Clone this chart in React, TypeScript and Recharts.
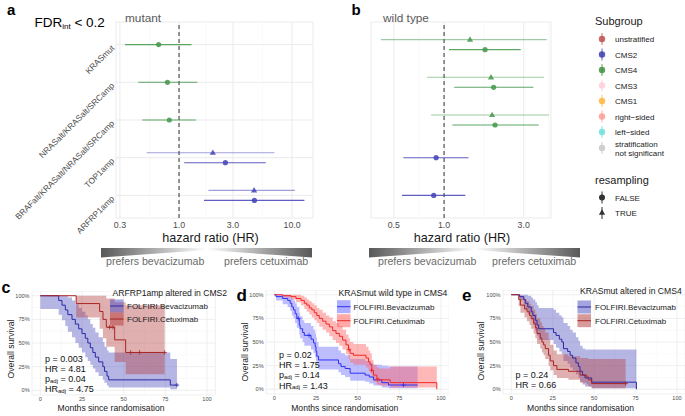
import React from 'react';
import { ScatterChart, Scatter, XAxis, YAxis, CartesianGrid, ReferenceLine, ComposedChart, Line, Area } from 'recharts';

const FONT = '"Liberation Sans", Arial, Helvetica, sans-serif';
const GRID_MAJOR = '#ebebeb';
const GRID_MINOR = '#f4f4f4';
const DODGE = 0.133;

// ---------------- forest plots ----------------
const rowLabels = ['KRASmut', 'NRASalt/KRASalt/SRCamp', 'BRAFalt/KRASalt/NRASalt/SRCamp', 'TOP1amp', 'ARFRP1amp'];
const rowIndex = [1, 2, 3, 4, 5];
const hrTicksA = [0.3, 1, 3, 10];
const hrMinorA = [0.5477, 1.732, 5.477];
const hrTicksB = [0.5, 1, 3];
const hrMinorB = [0.7071, 1.732, 4.243];

// panel a : mutant
const aRow = [1, 2, 3, 4, 4, 5, 5];
const aResampled = [false, false, false, true, false, true, false];
const aGroup = ['CMS4', 'CMS4', 'CMS4', 'CMS2', 'CMS2', 'CMS2', 'CMS2'];
const aHR = [0.66, 0.79, 0.82, 1.99, 2.57, 4.61, 4.64];
const aLo = [0.333, 0.436, 0.473, 0.518, 1.11, 1.82, 1.66];
const aHi = [1.29, 1.45, 1.41, 6.97, 5.85, 10.6, 12.85];

// panel b : wild type
const bRow = [1, 1, 2, 2, 3, 3, 4, 5];
const bResampled = [true, false, true, false, true, false, false, false];
const bGroup = ['CMS4', 'CMS4', 'CMS4', 'CMS4', 'CMS4', 'CMS4', 'CMS2', 'CMS2'];
const bHR = [1.43, 1.76, 1.91, 1.98, 1.94, 2.02, 0.896, 0.867];
const bLo = [0.418, 1.07, 0.79, 1.15, 0.836, 1.12, 0.57, 0.56];
const bHi = [4.12, 2.88, 3.97, 3.43, 4.25, 3.69, 1.40, 1.34];

const groupColor: Record<string, string> = { CMS2: '#4343b6', CMS4: '#43984a' };

// legend
const subgroupNames = ['unstratified', 'CMS2', 'CMS4', 'CMS3', 'CMS1', 'right\u2212sided', 'left\u2212sided'];
const subgroupColors = ['#bf4e4e', '#3d3db0', '#3f913f', '#ffcdd6', '#ffb53a', '#ff9a92', '#6cdfdf', '#cfcfcf'];
const subgroupY = [39, 54.5, 70, 85.5, 101, 116.5, 132];

// ---------------- Kaplan-Meier panels ----------------
const monthTicks = [0, 25, 50, 75, 100];
const monthMinor = [12.5, 37.5, 62.5, 87.5];
const survTicks = [0, 0.25, 0.5, 0.75, 1];
const survMinor = [0.125, 0.375, 0.625, 0.875];

// c : ARFRP1amp altered in CMS2
const cBevT = [0, 11, 13, 15, 16.5, 19, 21, 23, 25, 27, 28.5, 30, 31.5, 33, 35, 37.5, 38.5, 40, 41, 78, 82];
const cBevS = [1, 0.95, 0.9, 0.85, 0.8, 0.75, 0.7, 0.65, 0.6, 0.55, 0.5, 0.45, 0.4, 0.35, 0.3, 0.25, 0.2, 0.15, 0.11, 0.055, 0.055];
const cBevLo = [0.86, 0.8, 0.74, 0.68, 0.62, 0.56, 0.5, 0.45, 0.4, 0.35, 0.31, 0.27, 0.23, 0.19, 0.15, 0.11, 0.08, 0.05, 0.03, 0.01, 0.01];
const cBevHi = [1, 1, 1, 1, 0.98, 0.95, 0.91, 0.87, 0.83, 0.79, 0.75, 0.7, 0.66, 0.61, 0.56, 0.51, 0.46, 0.42, 0.4, 0.33, 0.33];
const cCetT = [0, 21.5, 35.6, 37.6, 39.6, 44.6, 51.2, 74.6];
const cCetS = [1, 0.917, 0.833, 0.75, 0.667, 0.533, 0.4, 0.4];
const cCetLo = [1, 0.77, 0.65, 0.55, 0.46, 0.3, 0.17, 0.17];
const cCetHi = [1, 1, 1, 1, 0.97, 0.93, 0.9, 0.9];
const cBevCensT = [82];
const cBevCensS = [0.055];
const cCetCensT = [41.6, 43.6, 54.2, 59.6, 74.6];
const cCetCensS = [0.667, 0.667, 0.4, 0.4, 0.4];

// d : KRASmut wild type in CMS4
const dBevT = [0, 1, 5, 8, 9.5, 10.5, 11.5, 12.5, 13.5, 15, 15.5, 17, 18, 22, 23.5, 24.5, 25, 25.5, 26.5, 38.5, 40, 42.5, 45.5, 54.5, 57, 59.5, 64.5, 68.5, 86];
const dBevS = [1, 0.98, 0.96, 0.94, 0.91, 0.87, 0.84, 0.8, 0.75, 0.68, 0.64, 0.6, 0.57, 0.53, 0.49, 0.45, 0.4, 0.35, 0.31, 0.27, 0.24, 0.22, 0.17, 0.15, 0.13, 0.1, 0.07, 0.045, 0.045];
const dBevLo = [1, 0.94, 0.9, 0.87, 0.83, 0.78, 0.75, 0.7, 0.65, 0.58, 0.54, 0.5, 0.46, 0.42, 0.38, 0.34, 0.3, 0.25, 0.21, 0.18, 0.15, 0.13, 0.09, 0.08, 0.06, 0.04, 0.02, 0.01, 0.01];
const dBevHi = [1, 1, 1, 1, 0.99, 0.96, 0.94, 0.91, 0.87, 0.81, 0.77, 0.73, 0.7, 0.67, 0.63, 0.59, 0.55, 0.5, 0.45, 0.41, 0.38, 0.36, 0.32, 0.3, 0.28, 0.26, 0.25, 0.24, 0.24];
const dCetT = [0, 5, 10, 13, 16, 18, 19.5, 21, 22.5, 24, 25.5, 27, 29, 31, 33, 35, 37, 39, 41, 43, 44.5, 45.5, 47.5, 55, 56.5, 57.5, 58.5, 59.5, 61.5, 63, 69.5, 97.5];
const dCetS = [1, 0.99, 0.98, 0.96, 0.94, 0.91, 0.89, 0.86, 0.84, 0.81, 0.78, 0.75, 0.72, 0.69, 0.66, 0.62, 0.59, 0.56, 0.52, 0.47, 0.42, 0.38, 0.36, 0.33, 0.29, 0.26, 0.2, 0.15, 0.11, 0.1, 0.07, 0];
const dCetLo = [1, 0.97, 0.95, 0.92, 0.89, 0.85, 0.82, 0.79, 0.76, 0.73, 0.7, 0.66, 0.63, 0.6, 0.56, 0.52, 0.49, 0.46, 0.42, 0.37, 0.32, 0.28, 0.26, 0.23, 0.2, 0.17, 0.12, 0.08, 0.05, 0.04, 0.02, 0];
const dCetHi = [1, 1, 1, 1, 0.99, 0.97, 0.95, 0.93, 0.91, 0.89, 0.86, 0.84, 0.81, 0.78, 0.76, 0.72, 0.7, 0.67, 0.63, 0.58, 0.54, 0.5, 0.48, 0.45, 0.41, 0.38, 0.31, 0.26, 0.23, 0.22, 0.24, 0];
const dBevCensT = [14.4, 20.8, 77.5];
const dBevCensS = [0.75, 0.57, 0.045];
const dCetCensT = [44.8, 58.4, 62];
const dCetCensS = [0.42, 0.2, 0.1];

// e : KRASmut altered in CMS4
const eBevT = [0, 5, 7.5, 8.5, 10, 12, 13, 14.5, 15.5, 16.5, 25.5, 27, 29, 30.5, 31.5, 34, 35.5, 37, 39, 40.5, 41.5, 43, 44.5, 48.5, 75.5];
const eBevS = [1, 0.98, 0.95, 0.91, 0.87, 0.82, 0.78, 0.73, 0.68, 0.64, 0.6, 0.57, 0.53, 0.5, 0.43, 0.4, 0.36, 0.33, 0.28, 0.24, 0.19, 0.15, 0.12, 0.075, 0];
const eBevLo = [1, 0.94, 0.89, 0.84, 0.79, 0.73, 0.68, 0.62, 0.57, 0.52, 0.48, 0.44, 0.4, 0.37, 0.3, 0.27, 0.23, 0.2, 0.16, 0.12, 0.08, 0.05, 0.03, 0.01, 0];
const eBevHi = [1, 1, 1, 1, 0.99, 0.97, 0.95, 0.92, 0.89, 0.86, 0.84, 0.81, 0.78, 0.76, 0.7, 0.67, 0.63, 0.6, 0.55, 0.51, 0.46, 0.43, 0.42, 0.42, 0];
const eCetT = [0, 4.5, 5.5, 8, 9.5, 11, 12, 13.5, 14.5, 15.5, 17.5, 18.5, 19.5, 20.5, 22.5, 23.5, 25.5, 27.5, 34.5, 41.5, 45.5, 46.5, 48.5, 69];
const eCetS = [1, 0.95, 0.89, 0.85, 0.82, 0.78, 0.75, 0.7, 0.65, 0.59, 0.54, 0.5, 0.47, 0.43, 0.36, 0.3, 0.25, 0.21, 0.19, 0.15, 0.13, 0.1, 0.06, 0.06];
const eCetLo = [1, 0.88, 0.81, 0.76, 0.72, 0.68, 0.64, 0.59, 0.54, 0.48, 0.43, 0.39, 0.36, 0.32, 0.25, 0.2, 0.15, 0.12, 0.1, 0.07, 0.05, 0.03, 0.01, 0.01];
const eCetHi = [1, 1, 0.98, 0.95, 0.93, 0.9, 0.88, 0.84, 0.8, 0.75, 0.71, 0.67, 0.64, 0.6, 0.53, 0.47, 0.41, 0.37, 0.35, 0.33, 0.33, 0.32, 0.32, 0.32];
const eBevCensT: number[] = [];
const eBevCensS: number[] = [];
const eCetCensT = [69];
const eCetCensS = [0.06];

// ---------------- helpers ----------------
type FP = { y: number; hr: number; lo: number; hi: number; res: boolean; grp: string };
function buildForest(rows: number[], res: boolean[], grp: string[], hr: number[], lo: number[], hi: number[]): FP[] {
  const counts: Record<number, number> = {};
  rows.forEach((r) => (counts[r] = (counts[r] || 0) + 1));
  return rows.map((r, i) => ({
    y: counts[r] > 1 ? r + (res[i] ? -DODGE : DODGE) : r,
    hr: hr[i], lo: lo[i], hi: hi[i], res: res[i], grp: grp[i],
  }));
}
const steps = (t: number[], s: number[]) => t.map((v, i) => ({ t: v, s: s[i] }));
const bands = (t: number[], lo: number[], hi: number[]) => t.map((v, i) => ({ t: v, lo: lo[i], hi: hi[i] }));

const circleShape = (color: string) => (p: any) => <circle cx={p.cx} cy={p.cy} r={2.6} fill={color} fillOpacity={0.85} />;
const triShape = (color: string) => (p: any) => (
  <polygon points={`${p.cx},${p.cy - 3.3} ${p.cx - 3.1},${p.cy + 2.1} ${p.cx + 3.1},${p.cy + 2.1}`} fill={color} fillOpacity={0.85} />
);
const emptyShape = () => <g />;

type ForestProps = {
  pts: FP[]; left: number; top: number; width: number; height: number;
  plotL: number; plotR: number; plotT: number; plotB: number;
  domain: [number, number]; ticks: number[]; minor: number[]; labels: boolean;
};

function Forest({ pts, left, top, width, height, plotL, plotR, plotT, plotB, domain, ticks, minor, labels }: ForestProps) {
  const yW = plotL - left;
  const xH = top + height - plotB;
  const tickY = plotB - top + 10.3;
  const lx = yW - 5;
  const xTick = (p: any) => (
    <text x={p.x} y={tickY} textAnchor="middle" fontSize={8.8} fill="#4d4d4d" fontFamily={FONT}>
      {Number(p.payload.value).toFixed(1)}
    </text>
  );
  const yTick = (p: any) => (
    <text x={lx} y={p.y} dy={5.5} transform={`rotate(-45 ${lx} ${p.y})`} textAnchor="end" fontSize={8.4} fill="#4d4d4d" fontFamily={FONT}>
      {rowLabels[p.payload.value - 1]}
    </text>
  );
  const groups = ['CMS4', 'CMS2'];
  return (
    <div style={{ position: 'absolute', left, top }}>
      <ScatterChart width={width} height={height} margin={{ top: plotT - top, right: left + width - plotR, bottom: 0, left: 0 }}>
        <CartesianGrid stroke={GRID_MINOR} strokeWidth={0.6} horizontal={false} verticalValues={minor} />
        <CartesianGrid stroke={GRID_MAJOR} strokeWidth={1} />
        <XAxis type="number" dataKey="x" scale="log" domain={domain} ticks={ticks} interval={0} allowDataOverflow
          axisLine={false} tickLine={false} height={xH} tick={xTick} />
        <YAxis type="number" dataKey="y" domain={[0.4, 5.6]} reversed ticks={rowIndex} interval={0} allowDataOverflow
          width={yW} axisLine={false} tickLine={false} tick={labels ? yTick : false} />
        <ReferenceLine x={1} stroke="#333333" strokeWidth={1} strokeDasharray="4 3" />
        {pts.map((d, i) => (
          <Scatter key={'ci' + i} data={[{ x: d.lo, y: d.y }, { x: d.hi, y: d.y }]} fill={groupColor[d.grp]}
            line={{ stroke: groupColor[d.grp], strokeWidth: 1.1, strokeOpacity: d.res ? 0.5 : 0.85 }}
            shape={emptyShape} isAnimationActive={false} />
        ))}
        {groups.map((g) => (
          <Scatter key={'c' + g} data={pts.filter((d) => d.grp === g && !d.res).map((d) => ({ x: d.hr, y: d.y }))}
            shape={circleShape(groupColor[g])} isAnimationActive={false} />
        ))}
        {groups.map((g) => (
          <Scatter key={'t' + g} data={pts.filter((d) => d.grp === g && d.res).map((d) => ({ x: d.hr, y: d.y }))}
            shape={triShape(groupColor[g])} isAnimationActive={false} />
        ))}
      </ScatterChart>
    </div>
  );
}

type KMColors = { bevLine: string; cetLine: string; bevFill: string; cetFill: string; op: number };
type KMProps = {
  plotL: number; plotT: number; plotW: number; plotH: number; col: KMColors;
  bev: any[]; cet: any[]; bevBand: any[]; cetBand: any[]; bevCens: any[]; cetCens: any[];
};

const plusShape = (color: string) => (p: any) => (
  <path d={`M${p.cx - 2.2},${p.cy}H${p.cx + 2.2}M${p.cx},${p.cy - 2.2}V${p.cy + 2.2}`} stroke={color} strokeWidth={0.8} />
);

function KM({ plotL, plotT, plotW, plotH, col, bev, cet, bevBand, cetBand, bevCens, cetCens }: KMProps) {
  const yW = 30;
  const xH = 12;
  const xTick = (p: any) => (
    <text x={p.x} y={plotH + 6} textAnchor="middle" fontSize={5.6} fill="#4d4d4d" fontFamily={FONT}>{p.payload.value}</text>
  );
  const yTick = (p: any) => (
    <text x={yW - 2.4} y={p.y + 2} textAnchor="end" fontSize={5.6} fill="#4d4d4d" fontFamily={FONT}>
      {Math.round(p.payload.value * 100) + '%'}
    </text>
  );
  return (
    <div style={{ position: 'absolute', left: plotL - yW, top: plotT }}>
      <ComposedChart width={plotW + yW} height={plotH + xH} margin={{ top: 0, right: 0, bottom: 0, left: 0 }}>
        <CartesianGrid stroke={GRID_MINOR} strokeWidth={0.5} verticalValues={monthMinor} horizontalValues={survMinor} />
        <CartesianGrid stroke={GRID_MAJOR} strokeWidth={0.8} />
        <XAxis type="number" dataKey="t" domain={[-5, 105]} ticks={monthTicks} interval={0} allowDataOverflow
          height={xH} axisLine={false} tickLine={false} tick={xTick} />
        <YAxis type="number" domain={[-0.05, 1.05]} ticks={survTicks} interval={0} allowDataOverflow
          width={yW} axisLine={false} tickLine={false} tick={yTick} />
        <Area data={bevBand} dataKey={(d: any) => [d.lo, d.hi]} type="stepAfter" stroke="none" fill={col.bevFill}
          fillOpacity={col.op} isAnimationActive={false} />
        <Area data={cetBand} dataKey={(d: any) => [d.lo, d.hi]} type="stepAfter" stroke="none" fill={col.cetFill}
          fillOpacity={col.op} isAnimationActive={false} />
        <Line data={bev} dataKey="s" type="stepAfter" stroke={col.bevLine} strokeWidth={1} dot={false} isAnimationActive={false} />
        <Line data={cet} dataKey="s" type="stepAfter" stroke={col.cetLine} strokeWidth={1} dot={false} isAnimationActive={false} />
        <Scatter data={bevCens} dataKey="s" shape={plusShape(col.bevLine)} isAnimationActive={false} />
        <Scatter data={cetCens} dataKey="s" shape={plusShape(col.cetLine)} isAnimationActive={false} />
      </ComposedChart>
    </div>
  );
}

const colCE: KMColors = { bevLine: '#2a2aa6', cetLine: '#a82424', bevFill: '#5050c0', cetFill: '#b54040', op: 0.42 };
const colD: KMColors = { bevLine: '#2f2ff2', cetLine: '#f02828', bevFill: '#6e6eff', cetFill: '#ff6262', op: 0.45 };

const txt = { fontFamily: FONT } as const;

function KMLegend({ x, y1, y2, tx, col }: { x: number; y1: number; y2: number; tx: number; col: KMColors }) {
  const w = 13.5, h = 13;
  return (
    <g>
      <rect x={x} y={y1 - h / 2} width={w} height={h} fill={col.bevFill} fillOpacity={col.op + 0.1} />
      <line x1={x} x2={x + w} y1={y1} y2={y1} stroke={col.bevLine} strokeWidth={1} />
      <text x={tx} y={y1 + 3} fontSize={8} fill="#1a1a1a" {...txt}>FOLFIRI.Bevacizumab</text>
      <rect x={x} y={y2 - h / 2} width={w} height={h} fill={col.cetFill} fillOpacity={col.op + 0.1} />
      <line x1={x} x2={x + w} y1={y2} y2={y2} stroke={col.cetLine} strokeWidth={1} />
      <text x={tx} y={y2 + 3} fontSize={8} fill="#1a1a1a" {...txt}>FOLFIRI.Cetuximab</text>
    </g>
  );
}

function Stats({ x, ys, p, hr, padj, hradj }: { x: number; ys: number[]; p: string; hr: string; padj?: string; hradj?: string }) {
  const fs = 9;
  return (
    <g fontSize={fs} fill="#111" {...txt}>
      <text x={x} y={ys[0]}>{'p = ' + p}</text>
      <text x={x} y={ys[1]}>{'HR = ' + hr}</text>
      {padj && (
        <text x={x} y={ys[2]}>p<tspan fontSize={6} dy={0.6}>adj</tspan><tspan dy={-0.6}>{' = ' + padj}</tspan></text>
      )}
      {hradj && (
        <text x={x} y={ys[3]}>HR<tspan fontSize={6} dy={0.6}>adj</tspan><tspan dy={-0.6}>{' = ' + hradj}</tspan></text>
      )}
    </g>
  );
}

function Overlay() {
  return (
    <svg width={685} height={416} style={{ position: 'absolute', left: 0, top: 0, pointerEvents: 'none' }}>
      <defs>
        <linearGradient id="wedge" x1="0" x2="1" y1="0" y2="0">
          <stop offset="0" stopColor="#585858" />
          <stop offset="0.5" stopColor="#ffffff" />
          <stop offset="1" stopColor="#585858" />
        </linearGradient>
      </defs>
      {/* panel letters and headers */}
      <text x={7} y={14.5} fontSize={15} fontWeight="bold" fill="#000" {...txt}>a</text>
      <text x={34.5} y={26.5} fontSize={13.5} fill="#000" {...txt}>FDR<tspan fontSize={8} dy={2.5}>int</tspan><tspan dy={-2.5}>{' < 0.2'}</tspan></text>
      <text x={125} y={22} fontSize={11.8} fill="#595959" {...txt}>mutant</text>
      <text x={351.5} y={14.5} fontSize={15} fontWeight="bold" fill="#000" {...txt}>b</text>
      <text x={383} y={22} fontSize={11.8} fill="#595959" {...txt}>wild type</text>

      {/* HR axis titles and gradients */}
      <text x={210.5} y={241.5} fontSize={12.6} textAnchor="middle" fill="#1a1a1a" {...txt}>hazard ratio (HR)</text>
      <text x={462} y={241.5} fontSize={12.6} textAnchor="middle" fill="#1a1a1a" {...txt}>hazard ratio (HR)</text>
      <polygon points="101,248 312,248 312,257.5 206.5,250 101,257.5" fill="url(#wedge)" />
      <polygon points="369,248 580,248 580,257.5 474.5,250 369,257.5" fill="url(#wedge)" />
      <text x={106} y={264.5} fontSize={10.6} fill="#6b6b6b" {...txt}>prefers bevacizumab</text>
      <text x={224} y={264.5} fontSize={10.6} fill="#6b6b6b" {...txt}>prefers cetuximab</text>
      <text x={378} y={264.5} fontSize={10.6} fill="#6b6b6b" {...txt}>prefers bevacizumab</text>
      <text x={492} y={264.5} fontSize={10.6} fill="#6b6b6b" {...txt}>prefers cetuximab</text>

      {/* legend */}
      <text x={595} y={24.5} fontSize={11} fill="#1a1a1a" {...txt}>Subgroup</text>
      {subgroupNames.map((n, i) => (
        <g key={n}>
          <line x1={602} x2={602} y1={subgroupY[i] - 6} y2={subgroupY[i] + 6} stroke={subgroupColors[i]} strokeWidth={1} strokeOpacity={0.8} />
          <circle cx={602} cy={subgroupY[i]} r={3.2} fill={subgroupColors[i]} fillOpacity={0.85} />
          <text x={615} y={subgroupY[i] + 3} fontSize={8} fill="#1a1a1a" {...txt}>{n}</text>
        </g>
      ))}
      <line x1={602} x2={602} y1={142} y2={154} stroke={subgroupColors[7]} strokeWidth={1} />
      <circle cx={602} cy={148} r={3.2} fill={subgroupColors[7]} />
      <text x={615} y={147} fontSize={8} fill="#1a1a1a" {...txt}>stratification</text>
      <text x={615} y={156} fontSize={8} fill="#1a1a1a" {...txt}>not significant</text>
      <text x={595} y={183.5} fontSize={11} fill="#1a1a1a" {...txt}>resampling</text>
      <line x1={602} x2={602} y1={191.5} y2={203.5} stroke="#333" strokeWidth={1} />
      <circle cx={602} cy={197.5} r={3} fill="#333" />
      <text x={615} y={200.5} fontSize={8} fill="#1a1a1a" {...txt}>FALSE</text>
      <line x1={602} x2={602} y1={207} y2={219} stroke="#333" strokeWidth={1} />
      <polygon points="602,209.3 598.9,214.8 605.1,214.8" fill="#333" />
      <text x={615} y={216} fontSize={8} fill="#1a1a1a" {...txt}>TRUE</text>

      {/* KM letters & titles */}
      <text x={1.5} y={293} fontSize={16} fontWeight="bold" fill="#000" {...txt}>c</text>
      <text x={236.5} y={301} fontSize={17} fontWeight="bold" fill="#000" {...txt}>d</text>
      <text x={462} y={301} fontSize={17} fontWeight="bold" fill="#000" {...txt}>e</text>
      <text x={112.5} y={295.5} fontSize={8.6} fill="#1a1a1a" {...txt}>ARFRP1amp altered in CMS2</text>
      <text x={338.5} y={296} fontSize={8.6} fill="#1a1a1a" {...txt}>KRASmut wild type in CMS4</text>
      <text x={580} y={294} fontSize={8.6} fill="#1a1a1a" {...txt}>KRASmut altered in CMS4</text>

      <KMLegend x={110} y1={306} y2={319} tx={127} col={colCE} />
      <KMLegend x={337} y1={306.7} y2={320.7} tx={353.5} col={colD} />
      <KMLegend x={577.5} y1={307} y2={320.7} tx={595} col={colCE} />

      <Stats x={45} ys={[361.5, 371.7, 381.9, 392.1]} p="0.003" hr="4.81" padj="0.04" hradj="4.75" />
      <Stats x={279} ys={[358, 368.2, 378.4, 388.6]} p="0.02" hr="1.75" padj="0.14" hradj="1.43" />
      <Stats x={515.5} ys={[378, 388.2]} p="0.24" hr="0.66" />

      {/* KM axis titles */}
      {[111, 344.7, 580.5].map((cx) => (
        <text key={cx} x={cx} y={411} fontSize={8.6} textAnchor="middle" fill="#1a1a1a" {...txt}>Months since randomisation</text>
      ))}
      {[[14, 349], [248, 352], [484, 351]].map(([x, y]) => (
        <text key={x} x={x} y={y} fontSize={8.6} textAnchor="middle" transform={`rotate(-90 ${x} ${y})`} fill="#1a1a1a" {...txt}>Overall survival</text>
      ))}
    </svg>
  );
}

export default function App() {
  const aPts = buildForest(aRow, aResampled, aGroup, aHR, aLo, aHi);
  const bPts = buildForest(bRow, bResampled, bGroup, bHR, bLo, bHi);
  return (
    <div style={{ position: 'absolute', left: 0, top: 0, width: 685, height: 416, overflow: 'hidden', background: '#fff', fontFamily: FONT }}>
      <Forest pts={aPts} left={0} top={0} width={330} height={235} plotL={116} plotR={313} plotT={22} plotB={218}
        domain={[0.277, 15.3]} ticks={hrTicksA} minor={hrMinorA} labels={true} />
      <Forest pts={bPts} left={360} top={0} width={200} height={235} plotL={371} plotR={551} plotT={22} plotB={218}
        domain={[0.365, 4.37]} ticks={hrTicksB} minor={hrMinorB} labels={false} />
      <KM plotL={32.4} plotT={290.6} plotW={183.3} plotH={104} col={colCE}
        bev={steps(cBevT, cBevS)} cet={steps(cCetT, cCetS)} bevBand={bands(cBevT, cBevLo, cBevHi)} cetBand={bands(cCetT, cCetLo, cCetHi)}
        bevCens={steps(cBevCensT, cBevCensS)} cetCens={steps(cCetCensT, cCetCensS)} />
      <KM plotL={266} plotT={290} plotW={183.3} plotH={104} col={colD}
        bev={steps(dBevT, dBevS)} cet={steps(dCetT, dCetS)} bevBand={bands(dBevT, dBevLo, dBevHi)} cetBand={bands(dCetT, dCetLo, dCetHi)}
        bevCens={steps(dBevCensT, dBevCensS)} cetCens={steps(dCetCensT, dCetCensS)} />
      <KM plotL={502.7} plotT={290} plotW={182.3} plotH={104} col={colCE}
        bev={steps(eBevT, eBevS)} cet={steps(eCetT, eCetS)} bevBand={bands(eBevT, eBevLo, eBevHi)} cetBand={bands(eCetT, eCetLo, eCetHi)}
        bevCens={steps(eBevCensT, eBevCensS)} cetCens={steps(eCetCensT, eCetCensS)} />
      <Overlay />
    </div>
  );
}
